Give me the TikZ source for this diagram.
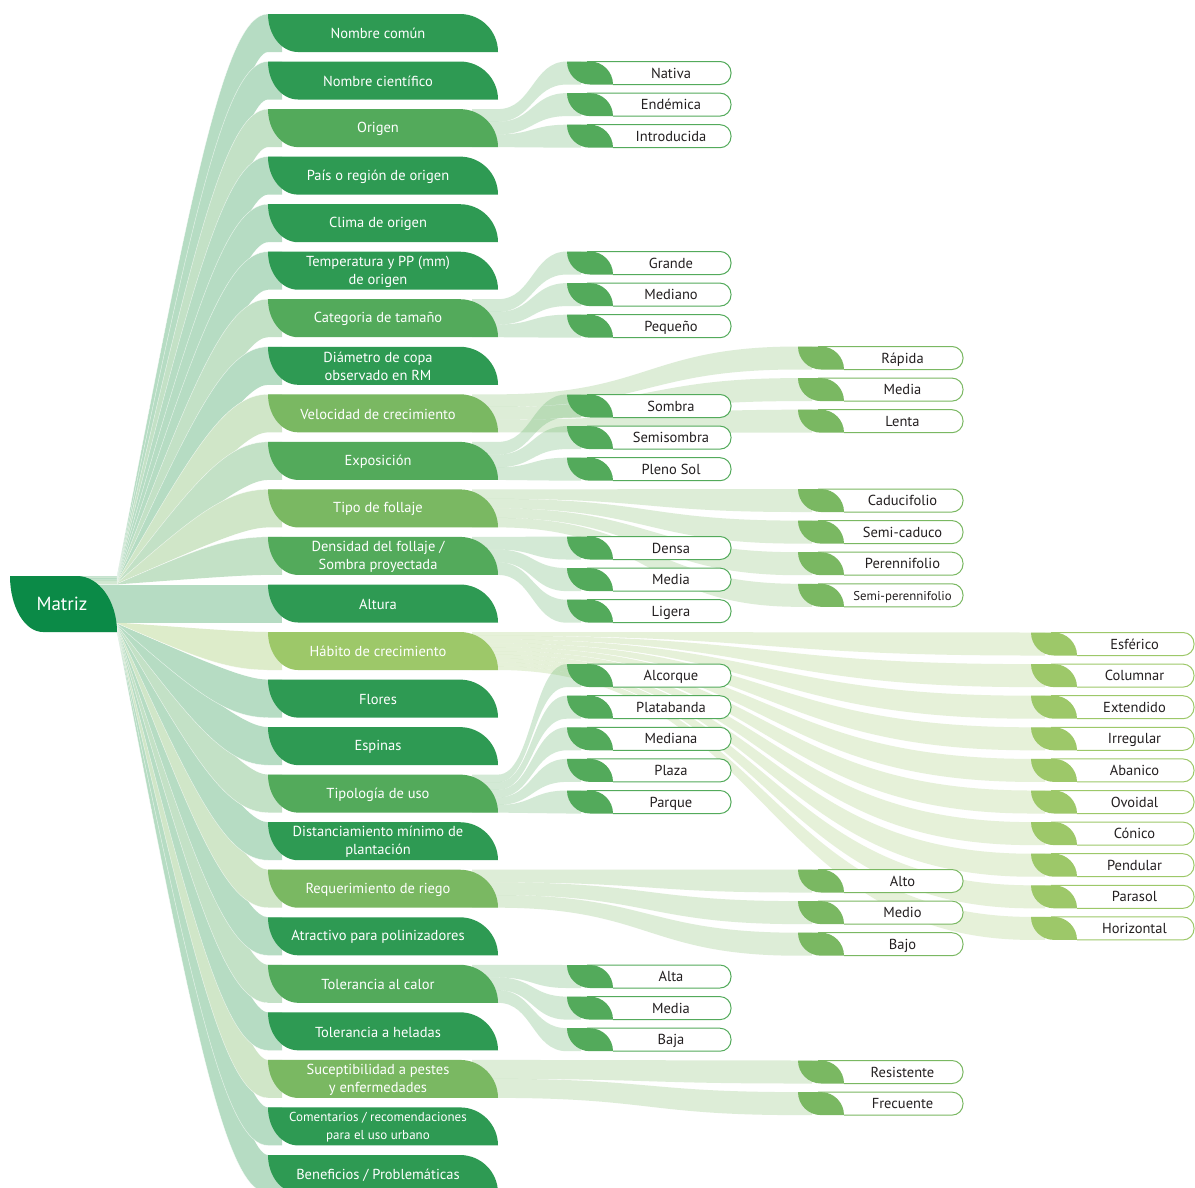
\documentclass[tikz,border=0pt]{standalone}
\usepackage{fontspec}
\setmainfont{PT Sans}

\definecolor{mtz}{HTML}{0B8A47}
\definecolor{gA}{HTML}{2E9A53}
\definecolor{gB}{HTML}{53AA5B}
\definecolor{gC}{HTML}{7AB862}
\definecolor{gD}{HTML}{9DC869}
\definecolor{ink}{HTML}{231F20}

\tikzset{
  topictext/.style={text=white, font=\fontsize{14.5}{18}\selectfont, align=center, inner sep=0pt},
  itemtext/.style={text=ink, font=\fontsize{14.5}{17}\selectfont, inner sep=0pt, text height=10.5pt, text depth=0.5pt},
  bandedge/.style={white, line width=.4pt, opacity=.7}
}

% Level-1 box: name, centre y, colour, label
\newcommand\TopicBox[4]{%
  \fill[#3] (268,{#2-19}) -- (460,{#2-19}) .. controls (481,{#2-19}) and (498,{#2-2}) .. (498,{#2+19})
    -- (298,{#2+19}) .. controls (281.4,{#2+19}) and (268,{#2+2}) .. (268,{#2-19}) -- cycle;
  \node[topictext] (#1) at (378,{#2+0.8}) {#4};
}

% Level-2 box: name, leaf x, right x, centre y, colour, label
\newcommand\ItemBox[6]{%
  \fill[white] ({#2+20},{#4-11.5}) -- ({#3-11},{#4-11.5}) .. controls ({#3-4.9},{#4-11.5}) and ({#3},{#4-6.6}) .. ({#3},{#4-0.5})
    -- ({#3},{#4+0.5}) .. controls ({#3},{#4+6.6}) and ({#3-4.9},{#4+11.5}) .. ({#3-11},{#4+11.5}) -- ({#2+20},{#4+11.5}) -- cycle;
  \draw[#5, line width=1pt] ({#2+20},{#4-11.5}) -- ({#3-11},{#4-11.5}) .. controls ({#3-4.9},{#4-11.5}) and ({#3},{#4-6.6}) .. ({#3},{#4-0.5})
    -- ({#3},{#4+0.5}) .. controls ({#3},{#4+6.6}) and ({#3-4.9},{#4+11.5}) .. ({#3-11},{#4+11.5}) -- ({#2+46},{#4+11.5});
  \fill[#5] ({#2},{#4-11.5}) -- ({#2+23},{#4-11.5}) .. controls ({#2+35.7},{#4-11.5}) and ({#2+46},{#4-1.2}) .. ({#2+46},{#4+11.5})
    -- ({#2+23},{#4+11.5}) .. controls ({#2+10.3},{#4+11.5}) and ({#2},{#4+1.2}) .. ({#2},{#4-11.5}) -- cycle;
  \node[itemtext] (#1) at ({(#2+44+#3)/2},{#4}) {#6};
}

% Band from a level-1 box to one of its options:
% colour, source top, source bottom, target x, target top, target bottom
\newcommand\FlowBand[6]{%
  \fill[#1, fill opacity=.25] (472,{#2}) -- (498,{#2}) .. controls ({(498+#4)/2},{#2}) and ({(498+#4)/2},{#5}) .. ({#4},{#5})
    -- ({#4+14},{#5}) -- ({#4+14},{#6}) -- ({#4},{#6}) .. controls ({(498+#4)/2},{#6}) and ({(498+#4)/2},{#3}) .. (498,{#3})
    -- (472,{#3}) -- cycle;
}

% All bands of one level-1 box: colour, box centre, target x, option centres, count
\newcommand\Fan[5]{%
  \foreach \cy [count=\i from 0] in {#4} {%
    \pgfmathsetmacro\sa{#2-19+\i*38/#5}%
    \pgfmathsetmacro\sb{#2-19+(\i+1)*38/#5}%
    \FlowBand{#1}{\sa}{\sb}{#3}{\cy-11.5}{\cy+11.5}%
  }%
}

% Bands from the root, rising (outer edge on top): colour, source top, source bottom, box centre
\newcommand\BandUp[4]{%
  \fill[#1!35!white] (70,{#2}) -- (117,{#2}) .. controls (192.6,{#2+0.7*(#4-19-#2)}) and (225,{#4-19}) .. (268,{#4-19})
    -- (282,{#4-19}) -- (282,{#4+19}) -- (268,{#4+19}) .. controls (245,{#4+19}) and (206.6,{#3+0.7*(#4+19-#3)}) .. (117,{#3})
    -- (70,{#3}) -- cycle;
  \draw[bandedge] (117,{#2}) .. controls (192.6,{#2+0.7*(#4-19-#2)}) and (225,{#4-19}) .. (268,{#4-19});
}
% Bands from the root, falling (outer edge below)
\newcommand\BandDown[4]{%
  \fill[#1!35!white] (70,{#2}) -- (117,{#2}) .. controls (206.6,{#2+0.7*(#4-19-#2)}) and (245,{#4-19}) .. (268,{#4-19})
    -- (282,{#4-19}) -- (282,{#4+19}) -- (268,{#4+19}) .. controls (225,{#4+19}) and (192.6,{#3+0.7*(#4+19-#3)}) .. (117,{#3})
    -- (70,{#3}) -- cycle;
  \draw[bandedge] (117,{#3}) .. controls (192.6,{#3+0.7*(#4+19-#3)}) and (225,{#4+19}) .. (268,{#4+19});
}

\begin{document}
\begin{tikzpicture}[x=1pt,y=-1pt]
\useasboundingbox (0,0) rectangle (1195,1187);
\clip (0,0) rectangle (1195,1187);
\fill[white] (0,0) rectangle (1195,1187);

% ---- bands from the root to the level-1 boxes
\foreach \k/\c/\col in {1/33.0/gA,2/80.5/gA,3/128.1/gB,4/175.6/gA,5/223.2/gA,6/270.7/gA,
                        7/318.2/gB,8/365.8/gA,9/413.3/gC,10/460.9/gB,11/508.4/gC,12/555.9/gB} {
  \pgfmathsetmacro\sa{576+(\k-1)*0.7}
  \pgfmathsetmacro\sb{\sa+0.7}
  \BandUp{\col}{\sa}{\sb}{\c}
}
\foreach \j/\c/\col in {12/1174.0/gA,11/1126.4/gA,10/1078.9/gC,9/1031.3/gA,8/983.8/gB,7/936.3/gA,
                        6/888.7/gC,5/841.2/gA,4/793.6/gB,3/746.1/gA,2/698.6/gA,1/651.0/gD} {
  \pgfmathsetmacro\sa{622.5+(\j-1)*0.8}
  \pgfmathsetmacro\sb{\sa+0.8}
  \BandDown{\col}{\sa}{\sb}{\c}
}
\fill[gA!35!white] (70,584.5) rectangle (282,622.5);

% ---- bands from level-1 boxes to their options
\Fan{gB}{128.1}{567}{73,104.6,136.2}{3}
\Fan{gB}{318.2}{567}{263,294.6,326.2}{3}
\Fan{gC}{413.3}{798}{358,389.6,421.2}{3}
\Fan{gB}{460.9}{567}{406,437.6,469.2}{3}
\Fan{gC}{508.4}{798}{500.5,532.1,563.7,595.3}{4}
\Fan{gB}{555.9}{567}{548,579.6,611.2}{3}
\Fan{gD}{651.0}{1031}{644,675.6,707.2,738.8,770.4,802,833.6,865.2,896.8,928.4}{10}
\Fan{gB}{793.6}{567}{675.6,707.2,738.8,770.4,802}{5}
\Fan{gC}{888.7}{798}{881,912.6,944.2}{3}
\Fan{gB}{983.8}{567}{976.5,1008.1,1039.7}{3}
\Fan{gC}{1078.9}{798}{1072,1103.6}{2}

% ---- root
\fill[mtz] (10,576) -- (77,576) .. controls (99,576) and (117,601) .. (117,632)
  -- (43,632) .. controls (24.8,632) and (10,607) .. (10,576) -- cycle;
\node[text=white, font=\fontsize{19}{22}\selectfont, inner sep=0pt] (root) at (62,604) {Matriz};

% ---- level-1 boxes
\TopicBox{t01}{33.0}{gA}{Nombre común}
\TopicBox{t02}{80.5}{gA}{Nombre científico}
\TopicBox{t03}{128.1}{gB}{Origen}
\TopicBox{t04}{175.6}{gA}{País o región de origen}
\TopicBox{t05}{223.2}{gA}{Clima de origen}
\TopicBox{t06}{270.7}{gA}{Temperatura y PP (mm)\\de origen}
\TopicBox{t07}{318.2}{gB}{Categoria de tamaño}
\TopicBox{t08}{365.8}{gA}{Diámetro de copa\\observado en RM}
\TopicBox{t09}{413.3}{gC}{Velocidad de crecimiento}
\TopicBox{t10}{460.9}{gB}{Exposición}
\TopicBox{t11}{508.4}{gC}{Tipo de follaje}
\TopicBox{t12}{555.9}{gB}{Densidad del follaje /\\Sombra proyectada}
\TopicBox{t13}{603.5}{gA}{Altura}
\TopicBox{t14}{651.0}{gD}{Hábito de crecimiento}
\TopicBox{t15}{698.6}{gA}{Flores}
\TopicBox{t16}{746.1}{gA}{Espinas}
\TopicBox{t17}{793.6}{gB}{Tipología de uso}
\TopicBox{t18}{841.2}{gA}{Distanciamiento mínimo de\\plantación}
\TopicBox{t19}{888.7}{gC}{Requerimiento de riego}
\TopicBox{t20}{936.3}{gA}{Atractivo para polinizadores}
\TopicBox{t21}{983.8}{gB}{Tolerancia al calor}
\TopicBox{t22}{1031.3}{gA}{Tolerancia a heladas}
\TopicBox{t23}{1078.9}{gC}{Suceptibilidad a pestes\\y enfermedades}
\TopicBox{t24}{1126.4}{gA}{\fontsize{13}{16}\selectfont Comentarios / recomendaciones\\\fontsize{13}{16}\selectfont para el uso urbano}
\TopicBox{t25}{1174.0}{gA}{Beneficios / Problemáticas}

% ---- options
\ItemBox{o-nativa}{567}{731}{73}{gB}{Nativa}
\ItemBox{o-endemica}{567}{731}{104.6}{gB}{Endémica}
\ItemBox{o-introducida}{567}{731}{136.2}{gB}{Introducida}
\ItemBox{o-grande}{567}{731}{263}{gB}{Grande}
\ItemBox{o-mediano}{567}{731}{294.6}{gB}{Mediano}
\ItemBox{o-pequeno}{567}{731}{326.2}{gB}{Pequeño}
\ItemBox{o-rapida}{798}{963}{358}{gC}{Rápida}
\ItemBox{o-vmedia}{798}{963}{389.6}{gC}{Media}
\ItemBox{o-lenta}{798}{963}{421.2}{gC}{Lenta}
\ItemBox{o-sombra}{567}{731}{406}{gB}{Sombra}
\ItemBox{o-semisombra}{567}{731}{437.6}{gB}{Semisombra}
\ItemBox{o-plenosol}{567}{731}{469.2}{gB}{Pleno Sol}
\ItemBox{o-caducifolio}{798}{963}{500.5}{gC}{Caducifolio}
\ItemBox{o-semicaduco}{798}{963}{532.1}{gC}{Semi-caduco}
\ItemBox{o-perennifolio}{798}{963}{563.7}{gC}{Perennifolio}
\ItemBox{o-semiperenne}{798}{963}{595.3}{gC}{\fontsize{12.8}{15}\selectfont Semi-perennifolio}
\ItemBox{o-densa}{567}{731}{548}{gB}{Densa}
\ItemBox{o-dmedia}{567}{731}{579.6}{gB}{Media}
\ItemBox{o-ligera}{567}{731}{611.2}{gB}{Ligera}
\ItemBox{o-esferico}{1031}{1194}{644}{gD}{Esférico}
\ItemBox{o-columnar}{1031}{1194}{675.6}{gD}{Columnar}
\ItemBox{o-extendido}{1031}{1194}{707.2}{gD}{Extendido}
\ItemBox{o-irregular}{1031}{1194}{738.8}{gD}{Irregular}
\ItemBox{o-abanico}{1031}{1194}{770.4}{gD}{Abanico}
\ItemBox{o-ovoidal}{1031}{1194}{802}{gD}{Ovoidal}
\ItemBox{o-conico}{1031}{1194}{833.6}{gD}{Cónico}
\ItemBox{o-pendular}{1031}{1194}{865.2}{gD}{Pendular}
\ItemBox{o-parasol}{1031}{1194}{896.8}{gD}{Parasol}
\ItemBox{o-horizontal}{1031}{1194}{928.4}{gD}{Horizontal}
\ItemBox{o-alcorque}{567}{731}{675.6}{gB}{Alcorque}
\ItemBox{o-platabanda}{567}{731}{707.2}{gB}{Platabanda}
\ItemBox{o-mediana}{567}{731}{738.8}{gB}{Mediana}
\ItemBox{o-plaza}{567}{731}{770.4}{gB}{Plaza}
\ItemBox{o-parque}{567}{731}{802}{gB}{Parque}
\ItemBox{o-alto}{798}{963}{881}{gC}{Alto}
\ItemBox{o-medio}{798}{963}{912.6}{gC}{Medio}
\ItemBox{o-bajo}{798}{963}{944.2}{gC}{Bajo}
\ItemBox{o-alta}{567}{731}{976.5}{gB}{Alta}
\ItemBox{o-tmedia}{567}{731}{1008.1}{gB}{Media}
\ItemBox{o-baja}{567}{731}{1039.7}{gB}{Baja}
\ItemBox{o-resistente}{798}{963}{1072}{gC}{Resistente}
\ItemBox{o-frecuente}{798}{963}{1103.6}{gC}{Frecuente}
\end{tikzpicture}
\end{document}
